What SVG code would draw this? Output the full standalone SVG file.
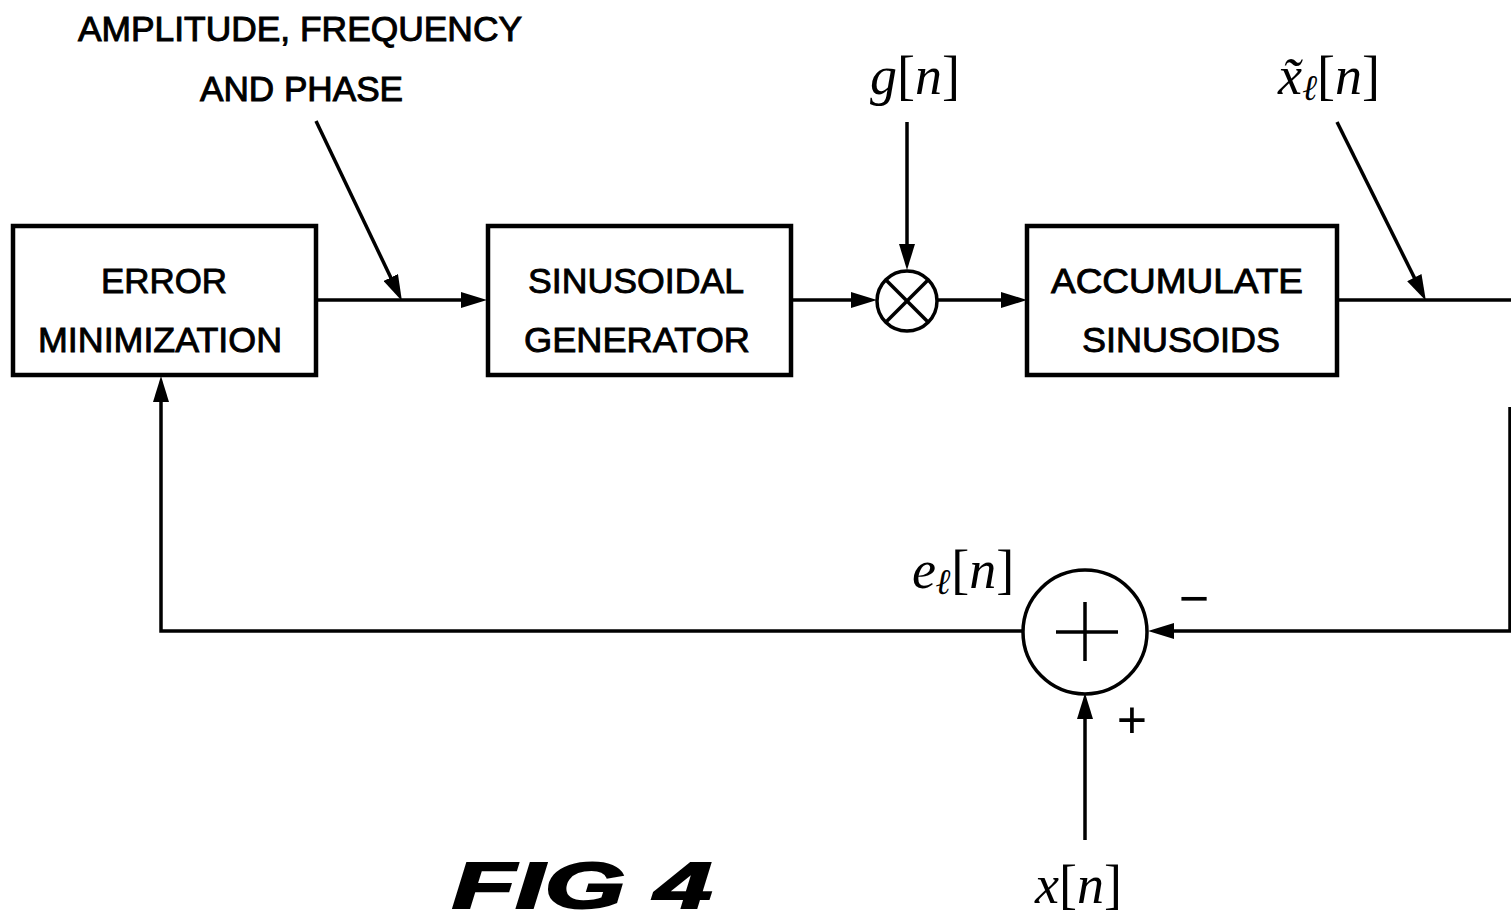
<svg xmlns="http://www.w3.org/2000/svg" width="1511" height="922" viewBox="0 0 1511 922">
<style>
.box{fill:#fff;stroke:#000;stroke-width:4.5}
.ln{fill:none;stroke:#000;stroke-width:3.5}
.arr{fill:none;stroke:#000;stroke-width:3.5;marker-end:url(#ah)}
.bt{font-family:"Liberation Sans",Arial,sans-serif;font-size:35px;fill:#000;stroke:#000;stroke-width:0.9;text-anchor:middle}
.lt{font-family:"Liberation Sans",Arial,sans-serif;font-size:35px;fill:#000;stroke:#000;stroke-width:1}
.m{font-family:"Liberation Serif","Times New Roman",serif;font-size:54px;fill:#000}
.i{font-style:italic}
.sg{font-family:"Liberation Sans",Arial,sans-serif;font-size:52px;fill:#000;text-anchor:middle}
.fig{font-family:"Liberation Sans",Arial,sans-serif;font-size:64px;font-weight:bold;font-style:italic;fill:#000;stroke:#000;stroke-width:2}
</style>
<defs>
<marker id="ah" viewBox="0 0 26 16" refX="15" refY="8" markerWidth="26" markerHeight="16" markerUnits="userSpaceOnUse" orient="auto">
<path d="M0,0 L26,8 L0,16 z" fill="#000"/>
</marker>
</defs>
<rect width="1511" height="922" fill="#fff"/>

<g id="connectors">
<line class="arr" x1="317" y1="300" x2="476" y2="300"/>
<line class="arr" x1="316" y1="121" x2="397.2" y2="291"/>
<line class="arr" x1="791" y1="300" x2="866" y2="300"/>
<line class="arr" x1="907" y1="122" x2="907" y2="259"/>
<line class="arr" x1="938" y1="300" x2="1016" y2="300"/>
<line class="ln" x1="1337" y1="300" x2="1511" y2="300"/>
<line class="arr" x1="1337" y1="122" x2="1421" y2="291"/>
<path class="arr" d="M1510,407 V631 H1159"/>
<line class="arr" x1="1085" y1="840" x2="1085" y2="704"/>
<path class="arr" d="M1023,631 H161 V387"/>
</g>

<g id="error-minimization">
<rect class="box" x="13" y="226" width="303" height="149"/>
<text class="bt" x="164" y="293" textLength="126" lengthAdjust="spacingAndGlyphs">ERROR</text>
<text class="bt" x="160" y="352" textLength="244" lengthAdjust="spacingAndGlyphs">MINIMIZATION</text>
</g>

<g id="sinusoidal-generator">
<rect class="box" x="488" y="226" width="303" height="149"/>
<text class="bt" x="636" y="293" textLength="216" lengthAdjust="spacingAndGlyphs">SINUSOIDAL</text>
<text class="bt" x="637" y="352" textLength="226" lengthAdjust="spacingAndGlyphs">GENERATOR</text>
</g>

<g id="accumulate-sinusoids">
<rect class="box" x="1027" y="226" width="310" height="149"/>
<text class="bt" x="1177" y="293" textLength="252" lengthAdjust="spacingAndGlyphs">ACCUMULATE</text>
<text class="bt" x="1181" y="352" textLength="198" lengthAdjust="spacingAndGlyphs">SINUSOIDS</text>
</g>

<g id="multiplier">
<circle class="ln" cx="907" cy="301" r="30"/>
<line class="ln" x1="886" y1="280" x2="928" y2="322"/>
<line class="ln" x1="928" y1="280" x2="886" y2="322"/>
</g>

<g id="adder">
<circle class="ln" cx="1085" cy="632" r="62"/>
<line class="ln" x1="1056" y1="632" x2="1118" y2="632"/>
<line class="ln" x1="1085" y1="602" x2="1085" y2="661"/>
</g>

<g id="labels">
<text class="lt" x="78" y="41" textLength="444" lengthAdjust="spacingAndGlyphs">AMPLITUDE, FREQUENCY</text>
<text class="lt" x="200" y="101" textLength="203" lengthAdjust="spacingAndGlyphs">AND PHASE</text>
<text class="m" x="870" y="94"><tspan class="i">g</tspan>[<tspan class="i">n</tspan>]</text>
<text class="m" x="1278" y="94"><tspan class="i">x̃</tspan><tspan class="i" font-size="36px" dy="6">ℓ</tspan><tspan dy="-6">[</tspan><tspan class="i">n</tspan>]</text>
<text class="m" x="912" y="588"><tspan class="i">e</tspan><tspan class="i" font-size="36px" font-weight="bold" dy="6">ℓ</tspan><tspan dy="-6">[</tspan><tspan class="i">n</tspan>]</text>
<text class="m" x="1035" y="903"><tspan class="i">x</tspan>[<tspan class="i">n</tspan>]</text>
<text class="sg" x="1194" y="616">−</text>
<text class="sg" x="1132" y="738">+</text>
<text class="fig" x="452" y="908" textLength="260" lengthAdjust="spacingAndGlyphs">FIG 4</text>
</g>
</svg>
